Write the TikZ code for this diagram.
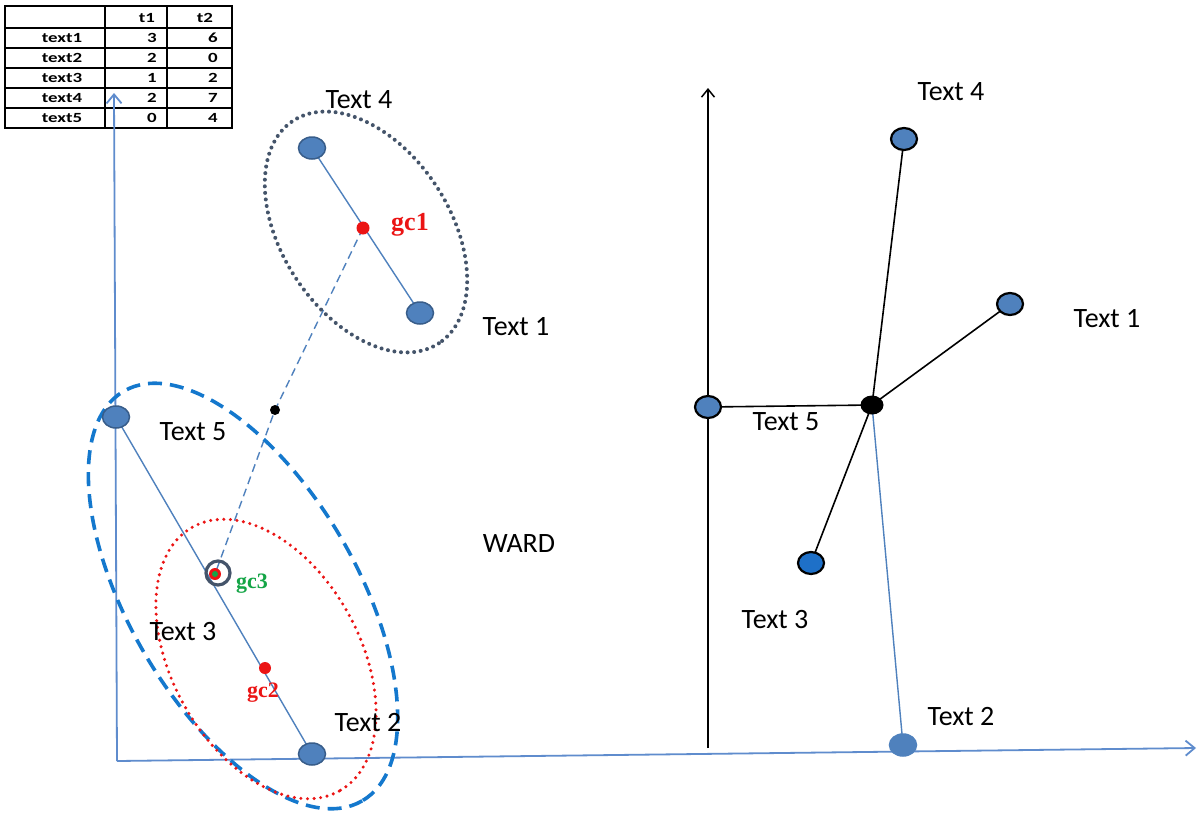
\documentclass[tikz,border=0pt]{standalone}
\usepackage{fontspec}
\setmainfont{Carlito}
\newfontfamily\tabfont[FakeStretch=1.35]{Carlito}
\newfontfamily\gcfont{Liberation Serif}
\usetikzlibrary{arrows.meta,shapes.geometric,backgrounds}

\definecolor{axisblue}{RGB}{95,140,205}
\definecolor{ptfill}{RGB}{79,129,189}
\definecolor{ptedge}{RGB}{56,93,138}
\definecolor{ptbright}{RGB}{30,112,200}
\definecolor{slate}{RGB}{68,84,106}
\definecolor{dashblue}{RGB}{20,120,205}
\definecolor{gcred}{RGB}{235,20,20}
\definecolor{gcgreen}{RGB}{20,165,70}

\tikzset{
  axis/.style={line width=1.8pt, -{Straight Barb[length=9pt,width=15pt,line width=1.8pt]}},
  lpt/.style={ellipse, inner sep=0pt, minimum width=27pt, minimum height=22pt,
              fill=ptfill, draw=ptedge, line width=1.5pt},
  rpt/.style={ellipse, inner sep=0pt, minimum width=26pt, minimum height=22pt,
              fill=ptfill, draw=black, line width=2.2pt},
  dot/.style={circle, inner sep=0pt, minimum size=#1},
  lbl/.style={font=\fontsize{28}{30}\selectfont, anchor=base, inner sep=0pt},
  gclbl/.style={font=\gcfont\bfseries\fontsize{26}{28}\selectfont, anchor=base, inner sep=0pt},
  smallgc/.style={font=\gcfont\bfseries\fontsize{22}{24}\selectfont},
  cell/.style={font=\tabfont\bfseries\fontsize{14}{16}\selectfont, inner sep=0pt},
  link/.style={line width=1.4pt, ptfill},
  spoke/.style={line width=1.6pt, black},
}

\begin{document}
\begin{tikzpicture}[x=1pt, y=-1pt]
\useasboundingbox (0,0) rectangle (1198,814);
\begin{scope}[on background layer]
\fill[white] (0,0) rectangle (1198,814);
\end{scope}

% ---- data table ----
\draw[line width=1.2pt] (5,6) rectangle (232,128);
\foreach \yy in {28,48,68,88,108} \draw[line width=1.2pt] (5,\yy) -- (232,\yy);
\foreach \xx in {105,167} \draw[line width=1.2pt] (\xx,6) -- (\xx,128);
\node[cell, anchor=base] (h1) at (147,22) {t1};
\node[cell, anchor=base] (h2) at (205,22) {t2};
\foreach \nm/\a/\b [count=\i] in {text1/3/6, text2/2/0, text3/1/2, text4/2/7, text5/0/4} {
  \node[cell, anchor=base] (r\i) at (62,22+20*\i) {\nm};
  \node[cell, anchor=base east] (a\i) at (157,22+20*\i) {\a};
  \node[cell, anchor=base east] (b\i) at (218,22+20*\i) {\b};
}

% ---- left axes ----
\coordinate (O) at (117,761);
\coordinate (Xend) at (1196,748);
\coordinate (Yend) at (114,93);
\draw[axis, axisblue] (O) -- (Xend);
\draw[axis, axisblue] (O) -- (Yend);

% ---- right axis ----
\coordinate (RB) at (708,748);
\coordinate (RT) at (708,88);
\draw[line width=1.5pt, black, -{Straight Barb[length=8pt,width=13pt,line width=1.5pt]}] (RB) -- (RT);

% ---- cluster outlines ----
\draw[slate, line width=4pt, line cap=round, dash pattern=on 0pt off 6.6pt,
      rotate around={-56.8:(366,232)}] (366,232) ellipse [x radius=133, y radius=84];
\draw[dashblue, line width=3.6pt, dash pattern=on 14pt off 8pt,
      rotate around={-59.8:(243,596)}] (243,596) ellipse [x radius=237, y radius=114];
\draw[gcred, line width=3.4pt, line cap=round, dash pattern=on 0pt off 6.6pt,
      rotate around={-61:(266,659)}] (266,659) ellipse [x radius=151, y radius=94];

% ---- left points ----
\node[lpt] (L4) at (312,148) {};
\node[lpt] (L1) at (420,313) {};
\node[lpt] (L5) at (116,417) {};
\node[lpt] (L2) at (312,754) {};
\node[dot=13pt, fill=gcred] (gc1) at (363,228) {};
\node[dot=10pt, fill=black] (mid) at (275,410) {};
\node[dot=24pt, draw=slate, line width=3.2pt] (gc3) at (218,573) {};
\node[dot=12pt, fill=gcred] (gc3r) at (215,574) {};
\node[dot=6pt, fill=gcgreen] (gc3g) at (215,574) {};
\node[dot=12pt, fill=gcred] (gc2) at (265,668) {};

\begin{scope}[on background layer]
\draw[link] (L4.center) -- (L1.center);
\draw[link] (L5.center) -- (L2.center);
\draw[link, dash pattern=on 8pt off 5pt] (gc1.center) -- (mid.center) -- (gc3r.center);
\end{scope}

% ---- left labels ----
\node[lbl] (tL4) at (359,108) {Text 4};
\node[lbl] (tL1) at (516,335) {Text 1};
\node[lbl] (tL5) at (193,440) {Text 5};
\node[lbl] (tL3) at (183,640) {Text 3};
\node[lbl] (tL2) at (368,731) {Text 2};
\node[lbl] (ward) at (519,552) {WARD};
\node[gclbl, text=gcred] (lgc1) at (410,230) {gc1};
\node[gclbl, smallgc, text=gcgreen] (lgc3) at (252,588) {gc3};
\node[gclbl, smallgc, text=gcred] (lgc2) at (263,697) {gc2};

% ---- right tree ----
\node[ellipse, inner sep=0pt, minimum width=23pt, minimum height=19pt, fill=black] (R0) at (872,405) {};
\node[rpt] (R4) at (904,139) {};
\node[rpt] (R1) at (1010,304) {};
\node[rpt] (R5) at (708,407) {};
\node[rpt, fill=ptbright] (R3) at (811,563) {};
\node[lpt, draw=ptfill] (R2) at (903,745) {};
\begin{scope}[on background layer]
\draw[link] (R0.center) -- (R2.center);
\draw[spoke] (R0.center) -- (R4.center);
\draw[spoke] (R0.center) -- (R1.center);
\draw[spoke] (R0.center) -- (R5.center);
\draw[spoke] (R0.center) -- (R3.center);
\end{scope}

% ---- right labels ----
\node[lbl] (tR4) at (951,100) {Text 4};
\node[lbl] (tR1) at (1107,327) {Text 1};
\node[lbl] (tR5) at (786,430) {Text 5};
\node[lbl] (tR3) at (775,628) {Text 3};
\node[lbl] (tR2) at (961,725) {Text 2};
\end{tikzpicture}
\end{document}
